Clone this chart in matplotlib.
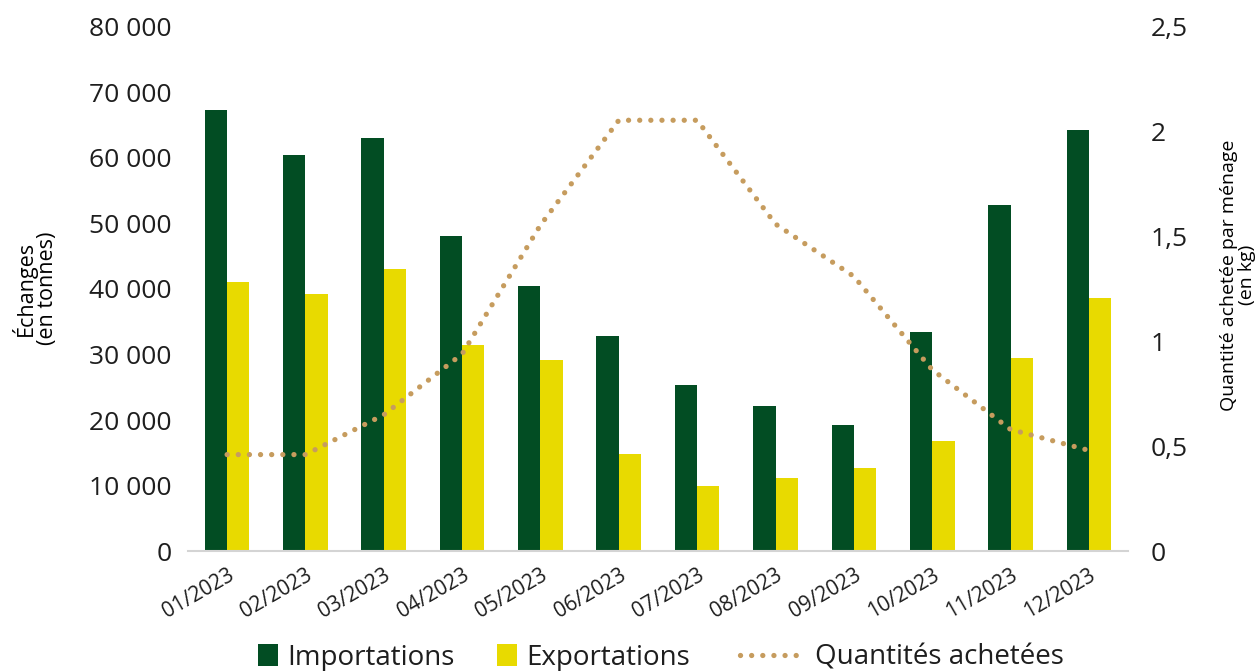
import matplotlib
matplotlib.use("Agg")
import matplotlib.pyplot as plt
import numpy as np
from matplotlib.ticker import FuncFormatter

months = ["01/2023", "02/2023", "03/2023", "04/2023", "05/2023", "06/2023",
          "07/2023", "08/2023", "09/2023", "10/2023", "11/2023", "12/2023"]
importations = [67300, 60400, 63100, 48100, 40400, 32900,
                25300, 22200, 19200, 33400, 52800, 64200]
exportations = [41000, 39300, 43100, 31400, 29100, 14800,
                9900, 11100, 12700, 16800, 29400, 38700]
quantites = [0.46, 0.46, 0.65, 0.94, 1.555, 2.055,
             2.055, 1.56, 1.31, 0.865, 0.58, 0.48]

GREEN = "#024d23"
YELLOW = "#e8da00"
TAN = "#c69c5e"
TXT = "#1e1e1e"

plt.rcParams["font.family"] = ["Open Sans", "DejaVu Sans"]
plt.rcParams["text.color"] = TXT

fig = plt.figure(figsize=(12.58, 6.71), dpi=100)
ax = fig.add_axes([0.1494, 0.1788, 0.7473, 0.781])
ax2 = ax.twinx()

x = np.arange(len(months))
w = 0.285
b1 = ax.bar(x - w / 2, importations, w, color=GREEN, label="Importations")
b2 = ax.bar(x + w / 2, exportations, w, color=YELLOW, label="Exportations")
ln, = ax2.plot(x, quantites, color=TAN, lw=3.8, linestyle=(0, (0.01, 2.1)),
               dash_capstyle="round", label="Quantités achetées")

ax.set_xlim(-0.5, len(months) - 0.5)
ax.set_ylim(0, 80000)
ax2.set_ylim(0, 2.5)
ax.set_yticks(np.arange(0, 80001, 10000))
ax2.set_yticks(np.arange(0, 2.51, 0.5))
ax.yaxis.set_major_formatter(FuncFormatter(lambda v, p: f"{int(v):,}".replace(",", " ")))
ax2.yaxis.set_major_formatter(FuncFormatter(lambda v, p: f"{v:g}".replace(".", ",")))

ax.set_xticks(x)
ax.set_xticklabels(months, rotation=30, ha="right", rotation_mode="anchor", fontsize=15)
ax.tick_params(axis="x", length=0, pad=10, colors=TXT)
ax.tick_params(axis="y", length=0, pad=12, labelsize=19, colors=TXT)
ax2.tick_params(axis="y", length=0, pad=16, labelsize=19, colors=TXT)

for a in (ax, ax2):
    for s in ("top", "left", "right", "bottom"):
        a.spines[s].set_visible(False)
ax.spines["bottom"].set_visible(True)
ax.spines["bottom"].set_color("#d4d4d4")
ax.spines["bottom"].set_linewidth(1.5)

ax.set_ylabel("Échanges\n(en tonnes)", fontsize=15.5, linespacing=1.0)
ax.yaxis.set_label_coords(-0.138, 0.502)
ax2.set_ylabel("Quantité achetée par ménage\n(en kg)", fontsize=14, linespacing=0.98)
ax2.yaxis.set_label_coords(1.098, 0.527)

# two legends so the squares and the dotted line can have different handle sizes
leg1 = fig.legend([b1, b2], ["Importations", "Exportations"],
                  loc="center left", bbox_to_anchor=(0.2051, 0.02), ncol=2,
                  frameon=False, fontsize=20, handlelength=0.72, handleheight=0.8,
                  handletextpad=0.32, columnspacing=1.55, borderpad=0, borderaxespad=0)
leg2 = fig.legend([ln], ["Quantités achetées"],
                  loc="center left", bbox_to_anchor=(0.5882, 0.02),
                  frameon=False, fontsize=20, handlelength=2.34,
                  handletextpad=0.36, borderpad=0, borderaxespad=0)

fig.savefig("out.png", dpi=100)
